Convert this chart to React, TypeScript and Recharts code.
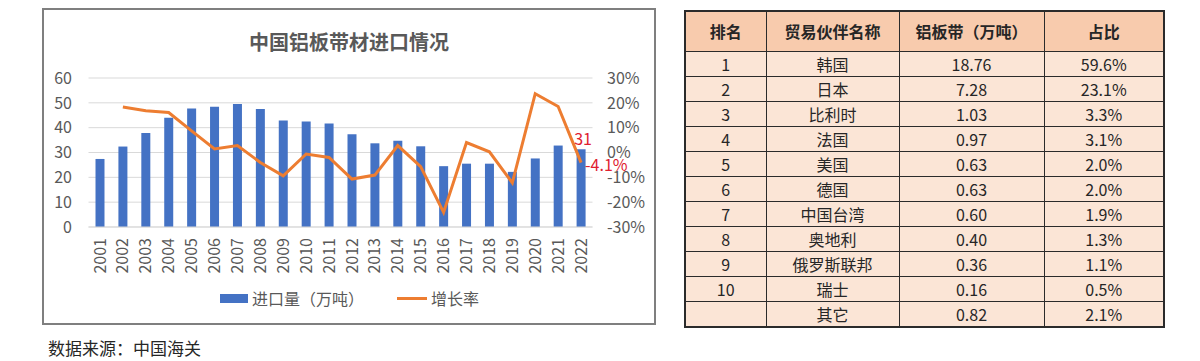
import React from "react";
import {
  ComposedChart,
  Bar,
  Line,
  XAxis,
  YAxis,
  CartesianGrid,
  Legend,
  LabelList,
} from "recharts";

const years = [
  "2001", "2002", "2003", "2004", "2005", "2006", "2007", "2008", "2009", "2010", "2011",
  "2012", "2013", "2014", "2015", "2016", "2017", "2018", "2019", "2020", "2021", "2022",
];
// 进口量（万吨）
const importVolume = [
  27.4, 32.4, 37.9, 44.0, 47.7, 48.4, 49.5, 47.5, 42.9, 42.5, 41.7,
  37.3, 33.7, 34.7, 32.5, 24.5, 25.5, 25.5, 22.2, 27.6, 32.8, 31.3,
];
// 增长率（%）
const growthRate = [
  null, 18.3, 16.8, 16.1, 8.7, 1.4, 2.8, -4.0, -9.4, -0.6, -2.0,
  -10.7, -9.1, 2.8, -5.7, -24.1, 4.0, 0.3, -12.2, 23.7, 18.5, -4.1,
];
const leftTicks = [0, 10, 20, 30, 40, 50, 60];
const rightTicks = [-30, -20, -10, 0, 10, 20, 30];

// table
const tableHeaders = ["排名", "贸易伙伴名称", "铝板带（万吨）", "占比"];
const ranks = ["1", "2", "3", "4", "5", "6", "7", "8", "9", "10", ""];
const partners = ["韩国", "日本", "比利时", "法国", "美国", "德国", "中国台湾", "奥地利", "俄罗斯联邦", "瑞士", "其它"];
const volumes = ["18.76", "7.28", "1.03", "0.97", "0.63", "0.63", "0.60", "0.40", "0.36", "0.16", "0.82"];
const shares = ["59.6%", "23.1%", "3.3%", "3.1%", "2.0%", "2.0%", "1.9%", "1.3%", "1.1%", "0.5%", "2.1%"];

const data = years.map((y, i) => ({
  year: y,
  volume: importVolume[i],
  growth: growthRate[i],
}));

const FONT = '"Noto Sans CJK SC", "Noto Sans", sans-serif';
const GRAY = "#595959";
const RED = "#E0202F";
const last = years.length - 1;

const YearTick = (props: any) => {
  const { x, y, payload } = props;
  return (
    <g transform={`translate(${x},${y})`}>
      <text
        transform="rotate(-90)"
        x={-3}
        y={0}
        dy="0.35em"
        textAnchor="end"
        fill={GRAY}
        fontSize={16}
        fontFamily={FONT}
      >
        {payload.value}
      </text>
    </g>
  );
};

const renderLegend = (props: any) => {
  // bar first, then line
  const items = [...(props.payload || [])].sort(
    (a: any, b: any) => (a.type === "rect" ? 0 : 1) - (b.type === "rect" ? 0 : 1)
  );
  return (
    <div style={{ display: "flex", alignItems: "center", fontFamily: FONT, fontSize: 16, color: GRAY }}>
      {items.map((p: any, i: number) => (
        <div key={i} style={{ display: "flex", alignItems: "center", marginRight: i === 0 ? 33 : 0 }}>
          {p.type === "rect" ? (
            <span style={{ display: "inline-block", width: 28, height: 9, background: p.color }} />
          ) : (
            <span style={{ display: "inline-block", width: 30, height: 3, background: p.color }} />
          )}
          <span style={{ marginLeft: 4, lineHeight: "20px" }}>{p.value}</span>
        </div>
      ))}
    </div>
  );
};

export default function App() {
  const cell: React.CSSProperties = {
    border: "1px solid #2b2b2b",
    padding: 0,
    textAlign: "center",
  };
  return (
    <div style={{ position: "absolute", left: 0, top: 0, width: 1200, height: 361, background: "#fff", fontFamily: FONT }}>
      {/* chart frame */}
      <div
        style={{
          position: "absolute",
          left: 42,
          top: 8,
          width: 614,
          height: 317,
          border: "2px solid #7f7f7f",
          boxSizing: "border-box",
        }}
      />
      <div
        style={{
          position: "absolute",
          left: 149,
          top: 30,
          width: 400,
          textAlign: "center",
          fontSize: 20,
          fontWeight: 700,
          color: GRAY,
          lineHeight: "24px",
        }}
      >
        中国铝板带材进口情况
      </div>
      <div style={{ position: "absolute", left: 0, top: 0 }}>
        <ComposedChart
          width={660}
          height={330}
          data={data}
          margin={{ top: 78, right: 17.5, left: 48.5, bottom: 43 }}
        >
          <CartesianGrid stroke="#d9d9d9" vertical={false} yAxisId="vol" />
          <XAxis
            dataKey="year"
            interval={0}
            height={60}
            tick={<YearTick />}
            tickLine={false}
            axisLine={{ stroke: "#d9d9d9" }}
          />
          <YAxis
            yAxisId="vol"
            domain={[0, 60]}
            ticks={leftTicks}
            width={40}
            tickLine={false}
            axisLine={false}
            tickMargin={10.5}
            tick={{ fontSize: 16, fill: GRAY, fontFamily: FONT }}
          />
          <YAxis
            yAxisId="rate"
            orientation="right"
            domain={[-30, 30]}
            ticks={rightTicks}
            width={50}
            tickLine={false}
            axisLine={false}
            tickMargin={8.5}
            tickFormatter={(v) => `${v}%`}
            tick={{ fontSize: 16, fill: GRAY, fontFamily: FONT }}
          />
          <Legend
            layout="horizontal"
            verticalAlign="middle"
            align="center"
            wrapperStyle={{ top: 288, left: 220, width: 300 }}
            content={renderLegend}
          />
          <Bar
            yAxisId="vol"
            dataKey="volume"
            name="进口量（万吨）"
            fill="#4472C4"
            barSize={9}
            legendType="rect"
            isAnimationActive={false}
          >
            <LabelList
              dataKey="volume"
              content={(p: any) =>
                p.index === last ? (
                  <text
                    x={p.x + p.width / 2 + 2}
                    y={p.y - 11}
                    textAnchor="middle"
                    dominantBaseline="central"
                    fill={RED}
                    fontSize={16}
                    fontFamily={FONT}
                  >
                    {Math.round(p.value)}
                  </text>
                ) : null
              }
            />
          </Bar>
          <Line
            yAxisId="rate"
            type="linear"
            dataKey="growth"
            name="增长率"
            stroke="#ED7D31"
            strokeWidth={3}
            dot={false}
            legendType="plainline"
            isAnimationActive={false}
          >
            <LabelList
              dataKey="growth"
              content={(p: any) =>
                p.index === last ? (
                  <text
                    x={p.x + 4}
                    y={p.y + 1}
                    textAnchor="start"
                    dominantBaseline="central"
                    fill={RED}
                    fontSize={16}
                    fontFamily={FONT}
                  >
                    {`${p.value}%`}
                  </text>
                ) : null
              }
            />
          </Line>
        </ComposedChart>
      </div>

      {/* table */}
      <table
        style={{
          position: "absolute",
          left: 684,
          top: 10,
          width: 479,
          borderCollapse: "collapse",
          tableLayout: "fixed",
          border: "2px solid #2b2b2b",
          fontSize: 16,
          color: "#262626",
        }}
      >
        <colgroup>
          <col style={{ width: 81 }} />
          <col style={{ width: 133 }} />
          <col style={{ width: 145 }} />
          <col style={{ width: 120 }} />
        </colgroup>
        <thead>
          <tr style={{ height: 40, background: "#F8CBAD" }}>
            {tableHeaders.map((h) => (
              <th key={h} style={{ ...cell, fontWeight: 700 }}>
                {h}
              </th>
            ))}
          </tr>
        </thead>
        <tbody>
          {partners.map((p, i) => (
            <tr key={p} style={{ height: 25, background: "#FBE5D6" }}>
              <td style={cell}>{ranks[i]}</td>
              <td style={cell}>{p}</td>
              <td style={cell}>{volumes[i]}</td>
              <td style={cell}>{shares[i]}</td>
            </tr>
          ))}
        </tbody>
      </table>

      <div
        style={{
          position: "absolute",
          left: 48,
          top: 337,
          fontSize: 17,
          color: "#262626",
          lineHeight: "22px",
        }}
      >
        数据来源：中国海关
      </div>
    </div>
  );
}
